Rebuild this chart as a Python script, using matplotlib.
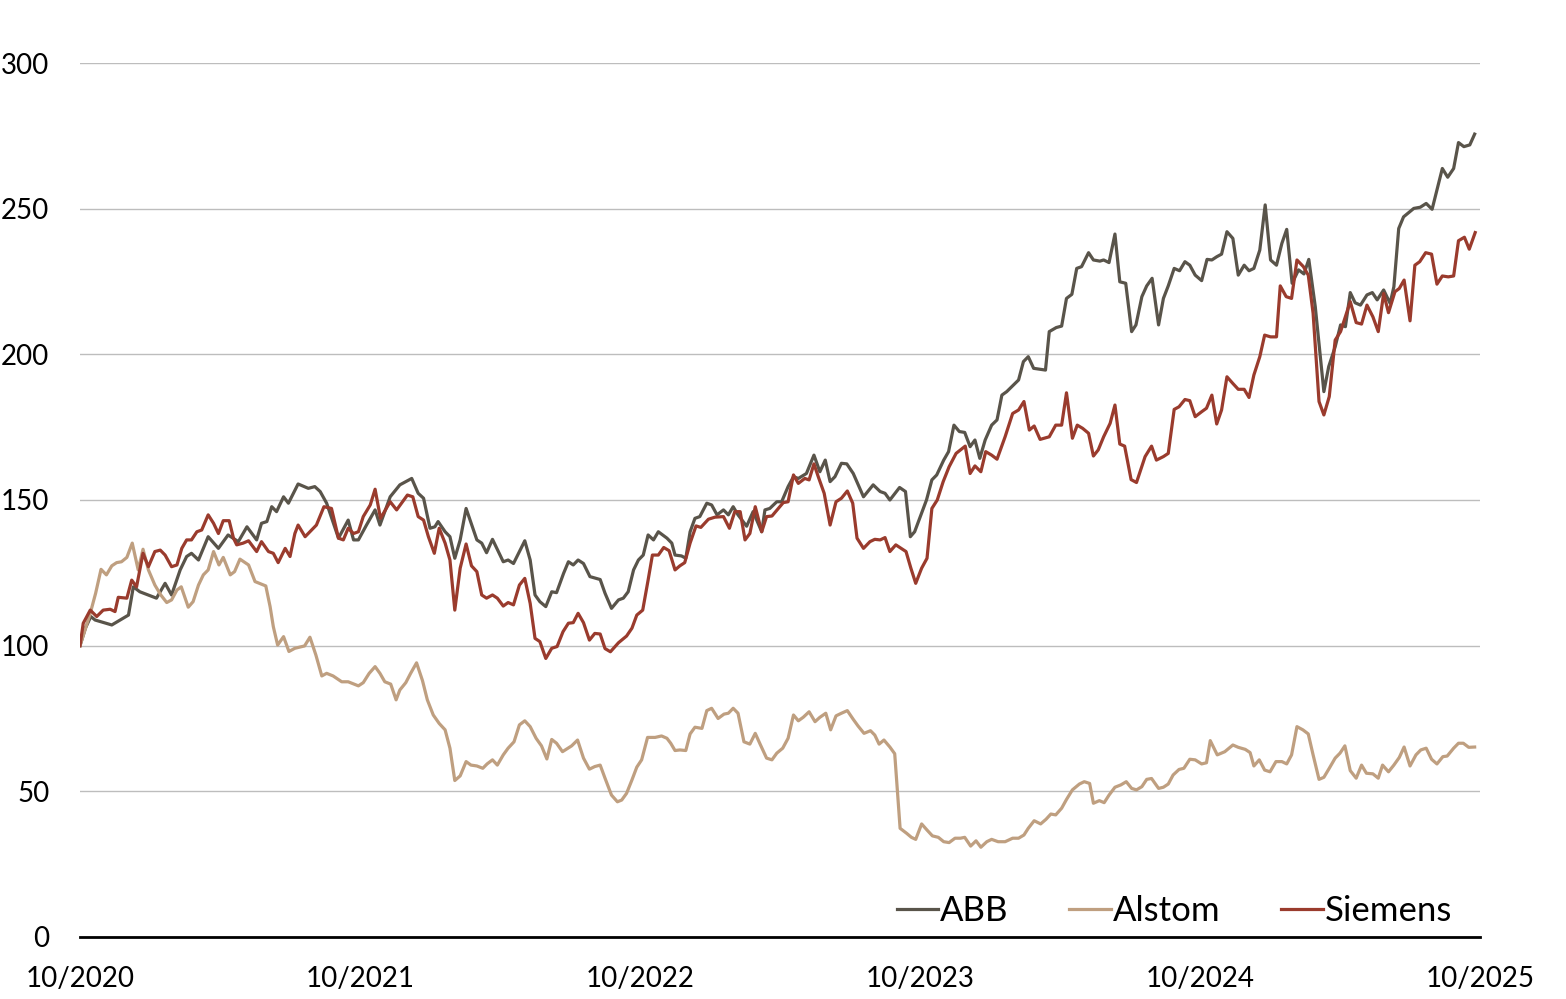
import matplotlib

matplotlib.use("Agg")
import matplotlib.pyplot as plt

# weeks since 10/2020, index level (10/2020 = 100)
abb_week = [
    0.0, 1.0, 2.0, 2.8, 5.9, 9.0, 9.9, 11.1, 14.2, 15.8, 17.0, 18.6, 19.8, 20.7, 22.0,
    23.8, 25.7, 27.5, 29.4, 31.0, 32.8, 33.7, 34.7, 35.6, 36.5, 37.8, 38.7, 40.5, 42.4,
    43.6, 44.6, 45.8, 48.0, 49.8, 50.8, 51.7, 53.2, 54.8, 55.7, 57.6, 59.4, 61.6, 62.8,
    63.8, 65.0, 65.9, 66.5, 67.8, 68.7, 69.6, 70.6, 71.7, 73.7, 74.6, 75.5, 76.6, 78.6,
    79.5, 80.5, 82.6, 83.6, 84.5, 85.4, 86.5, 87.6, 88.5, 89.8, 90.7, 91.6, 92.5, 93.5,
    94.7, 96.6, 97.5, 98.7, 100.0, 100.9, 101.8, 102.8, 103.7, 104.6, 105.5, 106.5,
    107.4, 109.0, 109.9, 110.5, 111.7, 112.5, 113.3, 114.2, 115.1, 116.4, 117.3, 118.3,
    119.5, 120.4, 121.3, 122.2, 123.8, 125.0, 126.6, 127.2, 128.1, 129.4, 130.3, 131.5,
    132.5, 133.4, 134.9, 136.3, 137.4, 138.4, 139.3, 140.2, 141.4, 142.4, 143.6, 145.5,
    147.3, 148.6, 149.5, 150.4, 152.2, 153.3, 154.2, 155.0, 157.2, 158.2, 159.1, 160.4,
    161.3, 162.3, 163.3, 164.3, 165.3, 166.2, 167.1, 168.1, 169.3, 170.3, 171.2, 172.1,
    174.3, 175.2, 176.1, 177.1, 179.3, 180.0, 181.3, 182.3, 183.2, 184.2, 185.1, 186.0,
    187.3, 188.2, 189.4, 190.1, 191.1, 192.2, 193.1, 194.2, 195.3, 196.1, 197.2, 198.1,
    199.1, 200.3, 201.2, 202.1, 203.2, 204.2, 205.2, 206.1, 207.1, 208.3, 209.3, 210.2,
    211.1, 212.0, 213.0, 214.1, 215.1, 216.2, 217.1, 218.0, 219.1, 220.1, 221.1, 222.2,
    223.2, 224.1, 225.1, 226.3, 227.3, 228.2, 229.4, 231.0, 231.9, 233.1, 234.1, 235.0,
    235.9, 236.8, 237.8, 239.0, 240.0, 240.9, 242.1, 243.3, 244.0, 244.9, 245.8, 247.7,
    248.9, 250.0, 251.1, 252.0, 253.0, 254.0, 255.1, 256.0, 257.0, 258.1, 259.0,
]
abb_value = [
    100, 106, 110, 108.8, 107.1, 110.5, 120.2, 118.5, 116.3, 121.4, 117.4, 126, 130.6,
    131.7, 129.4, 137.4, 133.4, 138, 135.7, 140.8, 136.3, 142, 142.6, 147.7, 146, 151.1,
    148.9, 155.5, 154, 154.6, 152.9, 148.9, 136.9, 143.1, 136.3, 136.3, 141.4, 146.6,
    141.4, 151.1, 155.2, 157.4, 152.3, 150.6, 140.3, 140.8, 142.6, 139.1, 137.4, 130,
    136.3, 147.1, 136.3, 135.2, 131.9, 136.5, 128.8, 129.4, 128.2, 136, 129.4, 117.4,
    115.1, 113.4, 118.5, 118.2, 124.8, 128.8, 127.7, 129.4, 128.2, 123.7, 122.7, 118,
    112.8, 115.7, 116.3, 118.5, 126, 129.4, 131.1, 138, 136.3, 139.1, 136.9, 135.2,
    131.1, 130.8, 130, 139.1, 143.7, 144.3, 148.9, 148.3, 144.9, 146.6, 144.9, 147.7,
    144.9, 141, 146, 139.1, 146.6, 147.1, 149.4, 149.4, 154.6, 158, 157.4, 159.1, 165.4,
    159.7, 163.7, 156.3, 158, 162.6, 162.4, 159.1, 151.1, 155.2, 152.9, 152.3, 150,
    154.3, 152.9, 137.4, 139.1, 150, 156.9, 158.6, 163.7, 166.6, 175.7, 173.5, 173.2,
    168.3, 170.6, 164.3, 170.6, 175.7, 177.5, 186, 187.2, 191.2, 197.5, 199.2, 195.2,
    194.6, 207.8, 209.2, 209.7, 219.2, 220.6, 229.5, 230.1, 234.9, 232.4, 232, 232.4,
    231.5, 241.3, 224.9, 224.4, 207.8, 210.1, 219.8, 223.5, 226.1, 210.1, 219.2, 223.5,
    229.5, 228.7, 231.8, 230.6, 227.2, 225.3, 232.6, 232.4, 233.5, 234.4, 242.1, 239.8,
    227.2, 230.6, 228.7, 229.5, 235.8, 251.3, 232.4, 230.6, 238.1, 242.9, 224.4, 229,
    227.6, 232.6, 216.4, 187.2, 195.8, 202.6, 210.1, 209.5, 221.2, 217.7, 216.9, 220.4,
    221.2, 218.7, 222.1, 217.5, 223.2, 243.2, 247.2, 250.1, 250.5, 251.8, 249.8, 256.4,
    263.8, 260.8, 263.8, 272.7, 271.3, 271.9, 275.6,
]

alstom_week = [
    0.0, 1.9, 2.9, 3.9, 4.9, 5.9, 6.8, 7.7, 8.7, 9.7, 10.8, 11.7, 12.7, 13.9, 15.0, 16.1,
    17.0, 18.0, 18.8, 20.1, 21.0, 22.0, 22.9, 23.8, 24.8, 25.8, 26.6, 27.9, 28.7, 29.7,
    31.3, 32.5, 34.5, 35.3, 35.9, 36.7, 37.8, 38.8, 39.9, 41.7, 42.7, 43.8, 44.9, 45.8,
    47.0, 48.6, 49.8, 51.7, 52.6, 53.7, 54.8, 55.7, 56.6, 57.7, 58.7, 59.4, 60.5, 61.4,
    62.5, 63.6, 64.5, 65.6, 66.7, 67.8, 68.7, 69.6, 70.6, 71.7, 72.6, 73.7, 74.8, 75.6,
    76.6, 77.5, 78.6, 79.5, 80.6, 81.6, 82.6, 83.6, 84.7, 85.7, 86.7, 87.6, 88.5, 89.6,
    91.3, 92.4, 93.5, 94.6, 95.6, 96.6, 97.5, 98.7, 99.8, 100.6, 101.5, 102.5, 103.4,
    104.3, 105.4, 106.8, 108.0, 109.0, 109.7, 110.5, 111.4, 112.5, 113.3, 114.2, 115.5,
    116.4, 117.3, 118.5, 119.6, 120.4, 121.3, 122.2, 123.3, 124.4, 125.4, 126.3, 127.5,
    128.5, 129.4, 130.5, 131.5, 132.5, 133.4, 134.3, 135.4, 136.5, 137.4, 138.5, 139.4,
    140.4, 141.4, 142.5, 143.6, 144.5, 145.6, 146.8, 147.6, 148.4, 149.3, 150.4, 151.3,
    152.3, 153.5, 154.4, 155.2, 156.3, 157.3, 158.3, 159.4, 160.4, 161.4, 162.5, 163.5,
    164.3, 165.4, 166.4, 167.3, 168.4, 169.3, 170.5, 171.8, 173.2, 174.3, 175.3, 176.1,
    177.2, 178.4, 179.4, 180.3, 181.2, 182.3, 183.2, 184.3, 185.6, 186.5, 187.5, 188.2,
    189.3, 190.2, 191.1, 192.2, 193.3, 194.3, 195.3, 196.2, 197.2, 198.1, 199.0, 200.3,
    201.2, 202.1, 203.0, 204.1, 205.0, 206.1, 207.1, 208.3, 209.2, 209.9, 211.2, 212.6,
    214.1, 215.1, 216.4, 217.3, 218.0, 219.0, 220.0, 221.0, 222.1, 223.2, 224.1, 225.0,
    226.0, 227.1, 228.1, 229.0, 230.1, 231.0, 232.0, 233.1, 234.0, 234.9, 235.9, 237.0,
    238.0, 238.9, 240.1, 241.1, 241.9, 243.0, 244.0, 245.0, 245.9, 247.0, 248.1, 249.0,
    250.0, 251.0, 252.0, 253.1, 253.9, 255.1, 256.0, 256.9, 257.9, 259.0,
]
alstom_value = [
    100, 111.1, 118, 126.2, 124.3, 127.4, 128.5, 128.8, 130.3, 135.2, 126, 133.1, 126,
    120.8, 117.4, 114.8, 115.7, 119.1, 120.2, 113.2, 115.1, 120.8, 124.3, 126, 132.3,
    127.7, 130.3, 124.3, 125.4, 129.7, 127.7, 122, 120.5, 113.4, 106.5, 100.2, 103.1, 98,
    99.1, 99.9, 102.9, 96.8, 89.6, 90.5, 89.6, 87.6, 87.6, 86.2, 87.3, 90.5, 92.8, 90.5,
    87.6, 86.8, 81.4, 84.8, 87.3, 90.5, 94.1, 88, 81.4, 76.2, 73.3, 71.1, 64.8, 53.7,
    55.3, 60.2, 59, 58.7, 57.9, 59.4, 60.8, 59, 62.5, 64.8, 67, 72.8, 74.2, 72.2, 68.2,
    65.6, 61.1, 67.8, 66.5, 63.6, 65.6, 67.6, 61.4, 57.6, 58.5, 59, 54.5, 48.7, 46.4,
    47, 49.3, 53.9, 58.3, 60.8, 68.5, 68.5, 69, 68.2, 66.5, 64, 64.2, 64, 69.7, 72,
    71.6, 77.7, 78.5, 75, 76.5, 76.8, 78.5, 76.8, 67, 66.2, 69.9, 66.2, 61.4, 60.8, 63.1,
    64.8, 68.2, 76.2, 74.2, 75.4, 77.3, 73.9, 75.4, 76.8, 71.1, 75.9, 76.8, 77.7, 74.7,
    72.4, 69.9, 70.8, 69.3, 66.2, 67.6, 65.2, 62.9, 37.3, 35.6, 34.2, 33.5, 38.8, 36.7,
    34.7, 34.2, 32.7, 32.4, 33.9, 33.9, 34.2, 31.2, 33, 30.8, 32.7, 33.5, 32.7, 32.7,
    33.9, 33.9, 35, 37.3, 39.9, 38.8, 40.4, 42.2, 41.9, 44.2, 47.2, 50.5, 52.5, 53.3,
    52.7, 45.9, 46.8, 46.1, 48.7, 51.4, 52.2, 53.3, 51, 50.5, 51.6, 54.1, 54.4, 51, 51.4,
    52.5, 55.6, 57.5, 57.9, 61, 60.8, 59.4, 59.8, 67.4, 62.5, 63.6, 65.9, 65.1, 64.4,
    63.3, 58.7, 60.8, 57.3, 56.7, 60.2, 60.2, 59.4, 62.5, 72.2, 71.1, 69.7, 62.5, 54.1,
    54.8, 57.9, 61.4, 63.1, 65.6, 57.1, 54.5, 59, 56.2, 56, 54.5, 59, 56.7, 59, 61.6,
    65.2, 58.7, 62.5, 64.2, 64.8, 61, 59.4, 61.9, 62.1, 64.8, 66.5, 66.5, 65.1, 65.2,
]

siemens_week = [
    0.0, 0.6, 1.9, 3.1, 4.3, 5.6, 6.5, 7.1, 8.7, 9.6, 10.5, 11.7, 12.7, 13.9, 14.9, 15.8,
    17.0, 18.0, 18.9, 19.8, 20.7, 21.7, 22.6, 23.8, 24.8, 25.7, 26.6, 27.7, 28.5, 29.1,
    30.3, 31.3, 32.8, 33.7, 35.0, 35.9, 36.8, 38.1, 39.0, 39.9, 40.5, 41.8, 42.7, 43.9,
    45.3, 46.7, 48.0, 48.9, 49.8, 50.8, 51.7, 52.6, 53.9, 54.8, 55.8, 57.6, 58.8, 60.8,
    61.8, 62.8, 63.8, 64.7, 65.8, 66.7, 67.8, 68.7, 69.6, 70.6, 71.7, 72.7, 73.7, 74.6,
    75.5, 76.6, 77.5, 78.6, 79.5, 80.5, 81.6, 82.6, 83.6, 84.5, 85.4, 86.5, 87.6, 88.6,
    89.7, 90.7, 91.6, 92.5, 93.5, 94.6, 95.6, 96.6, 97.5, 98.5, 100.0, 101.5, 102.5,
    103.4, 104.5, 105.5, 106.3, 107.4, 108.4, 109.4, 110.5, 111.4, 112.3, 113.3, 114.4,
    115.3, 116.7, 117.9, 119.5, 120.6, 121.6, 122.6, 123.5, 124.4, 125.4, 126.6, 127.5,
    128.5, 129.7, 130.6, 131.5, 132.5, 133.4, 134.6, 135.4, 136.3, 137.1, 138.2, 139.3,
    140.4, 141.4, 142.5, 143.5, 144.3, 145.5, 146.7, 147.6, 148.6, 149.5, 150.4, 151.5,
    153.4, 154.3, 155.2, 156.3, 157.3, 158.2, 159.2, 160.3, 161.4, 162.7, 164.4, 165.3,
    166.2, 167.3, 168.2, 169.3, 170.3, 171.8, 173.2, 174.3, 175.3, 176.3, 177.2, 178.3,
    180.0, 181.2, 182.3, 183.2, 184.3, 185.2, 186.2, 187.3, 188.2, 189.1, 190.1, 191.3,
    192.2, 193.1, 194.0, 195.2, 196.2, 197.8, 199.0, 199.9, 201.2, 202.1, 203.2, 204.1,
    205.2, 206.1, 207.1, 208.3, 209.2, 210.2, 211.1, 212.0, 213.0, 214.1, 215.1, 216.2,
    217.1, 218.0, 219.1, 220.0, 221.1, 222.2, 222.9, 224.0, 225.0, 226.0, 227.2, 228.1,
    229.0, 230.1, 231.0, 232.0, 233.1, 234.1, 235.9, 237.0, 238.0, 239.0, 240.1, 241.1,
    242.1, 243.0, 244.2, 245.0, 245.9, 247.0, 247.9, 248.8, 249.9, 251.0, 252.0, 253.0,
    254.1, 255.1, 256.0, 257.1, 258.0, 259.1,
]
siemens_value = [
    100, 107.7, 112.2, 110, 112.2, 112.5, 111.7, 116.6, 116.3, 122.5, 120.2, 131.7, 127.1,
    132.3, 132.8, 131.1, 127.1, 127.7, 133.4, 136.3, 136.3, 139.1, 139.7, 144.9, 142,
    138.5, 142.9, 142.9, 136.9, 134.6, 135.2, 136, 132.3, 135.7, 132.3, 131.7, 128.5,
    133.4, 130.6, 138.5, 141.4, 137.4, 139.1, 141.4, 147.7, 147.1, 136.9, 136.3, 140.3,
    138.5, 139.1, 144.3, 148.3, 153.7, 143.7, 149.4, 146.6, 151.7, 151.1, 144.3, 143.1,
    137.4, 131.7, 140.3, 135.2, 129.4, 112.2, 126.6, 134.9, 127.4, 125.4, 117.4, 116.3,
    117.4, 116.3, 113.6, 114.8, 114, 120.8, 123.1, 114.5, 102.5, 101.4, 95.6, 99.1, 99.7,
    104.8, 107.7, 107.9, 111.1, 107.9, 101.9, 104.2, 104, 99, 97.9, 101, 103.3, 106,
    110.5, 112.2, 122.5, 131.1, 131.1, 133.7, 132.6, 126, 127.4, 128.5, 135.2, 141.1,
    140.6, 143.4, 144.1, 144.3, 140.3, 146, 146, 136.3, 138.5, 147.7, 139.1, 144.3, 144.5,
    147.1, 149.1, 149.4, 158.6, 155.7, 157.4, 156.9, 162.4, 158, 152.3, 141.4, 149.4,
    150.6, 153.1, 148.9, 136.9, 133.4, 135.7, 136.5, 136.3, 137.1, 132.3, 134.6, 132.3,
    126.6, 121.4, 126.6, 130, 147.1, 150, 156.3, 161.4, 166, 168.5, 159.1, 161.7, 159.7,
    166.6, 165.4, 164, 171.7, 179.7, 180.9, 183.8, 174, 175.4, 170.8, 171.7, 175.7, 175.7,
    186.8, 171.2, 175.7, 174.6, 172.9, 165.1, 167.2, 171.7, 176.3, 182.6, 169.2, 168.5,
    157, 156, 164.9, 168.5, 163.7, 164.9, 166, 181.1, 182, 184.5, 184.1, 178.6, 180.3,
    181.5, 186, 176.1, 180.9, 192.3, 190, 188, 188, 185.2, 192.9, 199.2, 206.6, 206, 206,
    223.5, 219.8, 219.2, 232.4, 230.1, 227.2, 214.1, 183.8, 179.2, 185.5, 204.9, 207.8,
    218.1, 210.9, 210.4, 216.9, 212.9, 207.8, 220.9, 214.3, 221.5, 222.6, 225.5, 211.5,
    230.6, 231.8, 234.9, 234.4, 224.1, 226.9, 226.6, 226.9, 239, 240.2, 236.1, 241.8,
]

tick_weeks = [0, 52, 104, 156, 208, 260]
tick_labels = ["10/2020", "10/2021", "10/2022", "10/2023", "10/2024", "10/2025"]
y_ticks = [0, 50, 100, 150, 200, 250, 300]

plt.rcParams["font.family"] = ["Lato", "DejaVu Sans"]

fig = plt.figure(figsize=(15.66, 9.99), dpi=100)
ax = fig.add_axes([0.0511, 0.0621, 0.894, 0.8748])

ax.plot(abb_week, abb_value, color="#59544a", linewidth=2.3, label="ABB")
ax.plot(alstom_week, alstom_value, color="#bf9f80", linewidth=2.3, label="Alstom")
ax.plot(siemens_week, siemens_value, color="#9a3b2d", linewidth=2.3, label="Siemens")

ax.set_xlim(0, 260)
ax.set_ylim(0, 300)
ax.set_xticks(tick_weeks)
ax.set_xticklabels(tick_labels)
ax.set_yticks(y_ticks)
ax.tick_params(axis="both", length=0, labelsize=20, colors="black")
ax.tick_params(axis="x", pad=21)
ax.tick_params(axis="y", pad=22)

ax.grid(axis="y", color="#bdbdbd", linewidth=1.0)
ax.set_axisbelow(True)
for side in ("top", "right", "left"):
    ax.spines[side].set_visible(False)
ax.spines["bottom"].set_linewidth(2.0)
ax.spines["bottom"].set_color("black")
ax.spines["bottom"].set_zorder(5)

ax.legend(
    loc="center right",
    bbox_to_anchor=(0.98, 0.030),
    ncol=3,
    frameon=False,
    fontsize=25,
    handlelength=1.2,
    handletextpad=0.05,
    columnspacing=1.75,
    borderpad=0,
    borderaxespad=0,
)

fig.savefig("out.png", dpi=100)
plt.close(fig)
